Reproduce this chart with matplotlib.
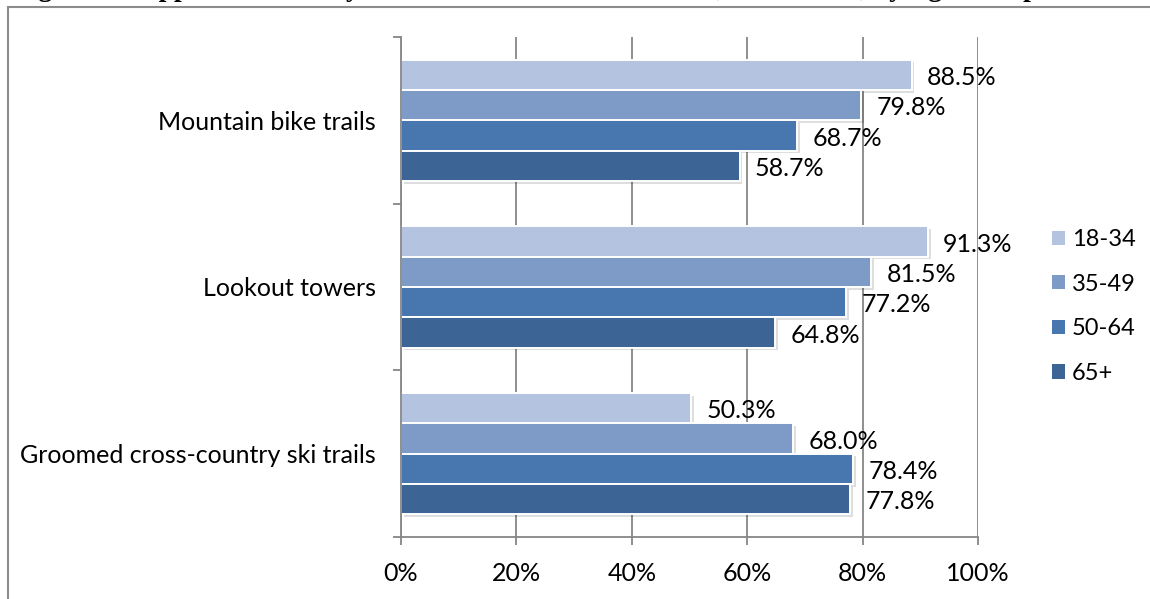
import matplotlib
matplotlib.use("Agg")
import matplotlib.pyplot as plt
import matplotlib.patheffects as pe
from matplotlib.patches import Rectangle, Patch
from matplotlib.ticker import FixedLocator, FuncFormatter
import numpy as np

# ---- data ----
title = "Figure 6: Support for County Involvement in New Activities, Three Uses, by Age Group"
categories = ["Mountain bike trails", "Lookout towers", "Groomed cross-country ski trails"]
age_groups = ["18-34", "35-49", "50-64", "65+"]
v_18_34 = [88.5, 91.3, 50.3]
v_35_49 = [79.8, 81.5, 68.0]
v_50_64 = [68.7, 77.2, 78.4]
v_65p = [58.7, 64.8, 77.8]
x_ticks = [0, 20, 40, 60, 80, 100]

series = [v_18_34, v_35_49, v_50_64, v_65p]
colors = ["#B4C3DF", "#7E9BC8", "#4877B0", "#3C6495"]

plt.rcParams["font.family"] = ["Lato", "DejaVu Sans"]
FS = 18

fig = plt.figure(figsize=(11.5, 5.99), dpi=100)

# outer frame (cut off at right / bottom)
fig.patches.append(Rectangle((8 / 1150, -0.05), 1.2, 1 - 7 / 599 + 0.05,
                             transform=fig.transFigure, fill=False,
                             edgecolor="#8C8C8C", lw=1.5))
# cut-off title (only its lower edge shows, as in the source)
fig.text(14 / 1150, 1 + 3.5 / 599, title, fontsize=19.8, fontweight="bold",
         family="Liberation Serif", ha="left", va="baseline")

ax = fig.add_axes([401 / 1150, 1 - 537 / 599, 577 / 1150, 500 / 599])

pitch = 0.182
y = np.arange(len(categories))
shadow = [pe.SimplePatchShadow(offset=(2, -2), shadow_rgbFace="black", alpha=0.13), pe.Normal()]
for j, (vals, col, lab) in enumerate(zip(series, colors, age_groups)):
    ys = y + (j - 1.5) * pitch
    bars = ax.barh(ys, vals, height=pitch, color=col, edgecolor="white",
                   linewidth=1.4, label=lab, zorder=2)
    for b in bars:
        b.set_path_effects(shadow)
    for yy, v in zip(ys, vals):
        ax.annotate(f"{v:.1f}%", (v, yy), xytext=(11, -2), textcoords="offset points",
                    ha="left", va="center", fontsize=FS, color="black", zorder=1)

ax.set_xlim(0, 100)
ax.set_ylim(2.5, -0.5)
ax.set_axisbelow(True)
ax.xaxis.grid(True, color="#868686", lw=1.3)
ax.set_xticks(x_ticks)
ax.xaxis.set_major_formatter(FuncFormatter(lambda v, p: f"{v:.0f}%"))
ax.tick_params(axis="x", length=6, width=1.3, color="#868686", pad=12, labelsize=FS)

ax.set_yticks(y)
ax.set_yticklabels(categories)
ax.yaxis.set_minor_locator(FixedLocator([-0.5, 0.5, 1.5, 2.5]))
ax.tick_params(axis="y", which="major", length=0, pad=18, labelsize=FS)
ax.tick_params(axis="y", which="minor", length=6, width=1.3, color="#868686")

for s in ["top", "right"]:
    ax.spines[s].set_visible(False)
for s in ["left", "bottom"]:
    ax.spines[s].set_color("#868686")
    ax.spines[s].set_linewidth(1.3)

handles = [Patch(facecolor=c, edgecolor="none", label=l) for c, l in zip(colors, age_groups)]
fig.legend(handles=handles, loc="center left", bbox_to_anchor=(1052 / 1150, 1 - 306.5 / 599),
           frameon=False, fontsize=17, handlelength=0.55, handleheight=0.55,
           handletextpad=0.3, labelspacing=1.0, borderpad=0, borderaxespad=0)

fig.savefig("out.png", dpi=100)
